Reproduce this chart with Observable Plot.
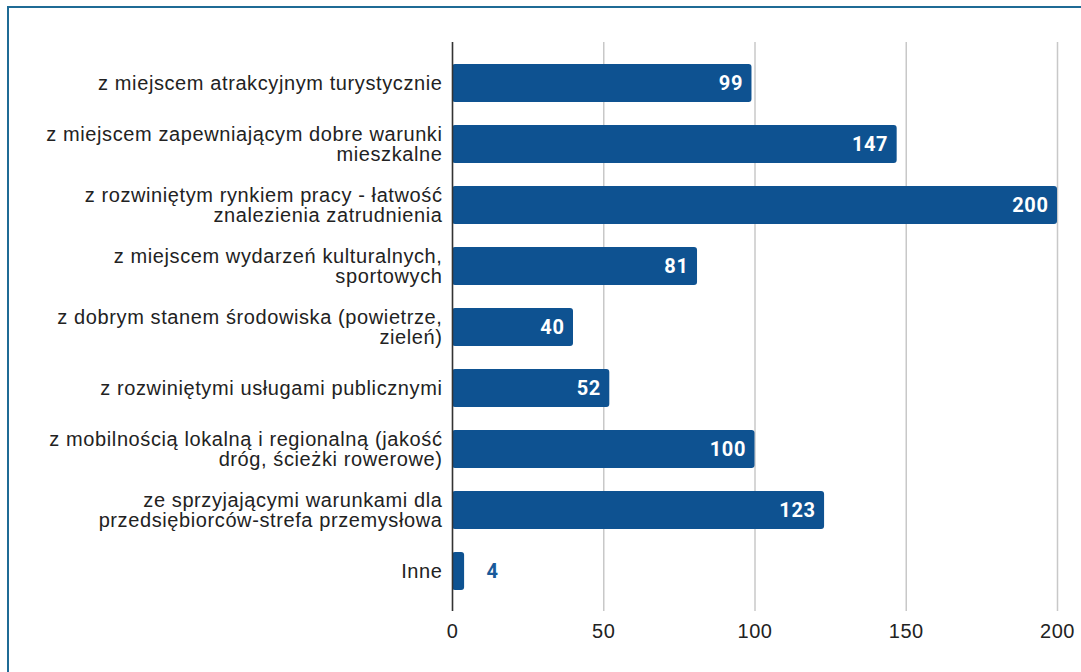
<!DOCTYPE html>
<html>
<head>
<meta charset="utf-8">
<script src="https://cdn.jsdelivr.net/npm/d3@7"></script>
<script src="https://cdn.jsdelivr.net/npm/@observablehq/plot@0.6"></script>
<style>
  html, body { margin: 0; padding: 0; background: #fff; width: 1081px; height: 672px; overflow: hidden; }
  #frame { position: absolute; left: 7px; top: 6px; width: 1090px; height: 700px; border-left: 2px solid #1f6b95; border-top: 2px solid #1f6b95; box-sizing: border-box; }
  #chart { position: absolute; left: 0; top: 0; }
</style>
</head>
<body>
<div id="frame"></div>
<div id="chart"></div>
<script>
const categories = [
  "z miejscem atrakcyjnym turystycznie",
  "z miejscem zapewniającym dobre warunki\nmieszkalne",
  "z rozwiniętym rynkiem pracy - łatwość\nznalezienia zatrudnienia",
  "z miejscem wydarzeń kulturalnych,\nsportowych",
  "z dobrym stanem środowiska (powietrze,\nzieleń)",
  "z rozwiniętymi usługami publicznymi",
  "z mobilnością lokalną i regionalną (jakość\ndróg, ścieżki rowerowe)",
  "ze sprzyjającymi warunkami dla\nprzedsiębiorców-strefa przemysłowa",
  "Inne"
];
const values = [99, 147, 200, 81, 40, 52, 100, 123, 4];
const xTicks = [0, 50, 100, 150, 200];

const data = categories.map((c, i) => ({category: c, value: values[i]}));
const inside = data.filter(d => d.value >= 20);
const outside = data.filter(d => d.value < 20);

const chart = Plot.plot({
  width: 1081,
  height: 672,
  marginLeft: 452,
  marginRight: 24,
  marginTop: 42,
  marginBottom: 61,
  style: {fontFamily: "'Liberation Sans', Arial, sans-serif", fontSize: "20px", color: "#222", background: "transparent", letterSpacing: "0.6px"},
  x: {domain: [0, 200], ticks: xTicks, label: null},
  y: {domain: categories, paddingInner: 0.38, paddingOuter: 0.35, label: null},
  marks: [
    Plot.gridX(xTicks, {stroke: "#c8c8c8", strokeOpacity: 1, strokeWidth: 1.5}),
    Plot.axisX({ticks: xTicks, tickSize: 0, tickPadding: 12, fontSize: 20, label: null}),
    Plot.axisY({tickSize: 0, tickPadding: 10, fontSize: 20, lineHeight: 1.0, label: null}),
    Plot.barX(data, {y: "category", x: "value", fill: "#0e5291", rx: 3}),
    Plot.ruleX([0], {stroke: "#333", strokeWidth: 1.5}),
    Plot.text(inside, {y: "category", x: "value", text: d => String(d.value), textAnchor: "end", dx: -9, fill: "white", fontWeight: "bold", fontSize: 20, fontFamily: "Roboto, sans-serif"}),
    Plot.text(outside, {y: "category", x: "value", text: d => String(d.value), textAnchor: "start", dx: 22, fill: "#1a5a9a", fontWeight: "bold", fontSize: 20, fontFamily: "Roboto, sans-serif"})
  ]
});
document.getElementById("chart").appendChild(chart);
</script>
</body>
</html>
